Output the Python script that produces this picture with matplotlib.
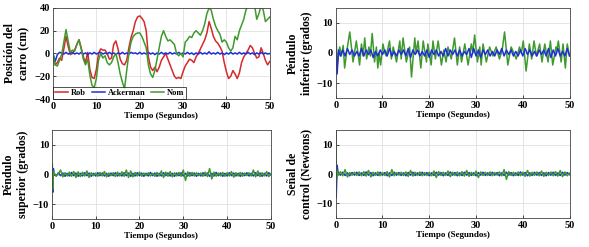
import numpy as np
import matplotlib
matplotlib.use('Agg')
import matplotlib.pyplot as plt

plt.rcParams['font.family'] = ['Liberation Serif', 'DejaVu Serif']
plt.rcParams['font.weight'] = 'bold'

# ---------------- data ----------------
t_car = np.arange(0, 50.01, 0.5)

car_rob = [-3, -10, -8, -4, -6, 4, 15, 6, -1, 0,
           3, 8, 12, 5, -3, -8, 1, -14, -21, -22,
           -14, 0, 4, 3, 3, 0, -5, -4, 8, 11,
           4, -5, -9, -10, -6, 5, 14, 20, 28, 32,
           33, 31, 28, 20, -3, -12, -15, -12, -16, -12,
           -6, -3, 0, -5, -10, -15, -20, -22, -21, -22,
           -16, -11, -8, -5, -6, -8, -3, 0, 4, 8,
           12, 18, 28, 22, 15, 11, 9, 6, 2, -8,
           -16, -22, -20, -15, -18, -22, -17, -8, -3, 0,
           3, 7, 5, 0, -4, -3, 5, 0, -6, -10,
           -7]

car_ack = [0, -7, -1, 1, 0.5, -0.5, 1, -0.5, 0.5, 1,
           -0.5, 0.5, -0.5, 1, -0.5, 0.5, -1, 0.5, -0.5, 1,
           -0.5, 0.5, 1, -0.5, 0.5, -0.5, 1, -0.5, 0.5, -1,
           0.5, -0.5, 1, -0.5, 0.5, -0.5, 1, 0, 0.5, -0.5,
           1, -0.5, 0.5, -0.5, 1, -0.5, 0.5, -1, 0.5, -0.5,
           1, -0.5, 0.5, -0.5, 1, -0.5, 0.5, -0.5, 1, -0.5,
           0.5, -0.5, 1, -0.5, 0.5, -1, 0.5, -0.5, 1, -0.5,
           0.5, -0.5, 1.5, -0.5, 0.5, -0.5, 1, -0.5, 0.5, -1,
           0.5, -0.5, 1, -0.5, 0.5, -0.5, 1, -0.5, 0.5, -0.5,
           1, -0.5, 0.5, -1, 0.5, -0.5, 1, -0.5, 0.5, -0.5,
           0]

car_nom = [0, -10, -11, -6, -1, 10, 21, 11, 1, 3,
           2, 8, 12, 4, -5, -10, -5, -19, -28, -30,
           -22, -6, 0, -4, -2, -8, -10, -8, -3, 0,
           -8, -18, -25, -31, -15, 0, 10, 15, 17, 18,
           18, 15, 10, 5, -10, -18, -21, -15, -5, 5,
           15, 20, 15, 11, 12, 10, 8, 0, -2, 0,
           -3, 10, 12, 15, 14, 18, 20, 18, 16, 20,
           26, 35, 40, 38, 30, 24, 20, 17, 10, 12,
           10, 5, 2, 5, 15, 12, 20, 25, 30, 38,
           42, 45, 45, 42, 30, 35, 42, 38, 28, 30,
           32]

# lower pendulum: nominal (green) peaks and troughs
inf_t = [0, 0.3, 0.85, 1.2, 1.6, 1.9, 2.4, 3.0, 3.7, 4.4,
         5.1, 5.5, 5.85, 6.2, 6.6, 7.1, 7.4, 7.8, 8.3, 8.7,
         9.0, 9.3, 9.6, 10.1, 10.5, 10.8, 11.5, 11.9, 12.3, 13.0,
         13.7, 14.0, 14.4, 15.1, 15.8, 16.2, 16.9, 17.2, 17.6, 18.2,
         18.7, 19.4, 19.7, 20.4, 20.8, 21.3, 21.9, 22.6, 23.1, 23.6,
         24.0, 24.7, 25.4, 26.0, 26.5, 26.9, 27.6, 28.3, 29.0, 29.3,
         29.7, 30.3, 30.8, 31.1, 31.5, 32.2, 32.9, 33.6, 34.3, 35.0,
         35.6, 36.1, 36.8, 37.5, 38.1, 38.6, 39.3, 39.7, 40.1, 40.7,
         41.4, 41.9, 42.4, 42.9, 43.6, 44.1, 44.7, 45.4, 45.9, 46.4,
         47.1, 47.3, 47.6, 48.2, 48.6, 49.1, 49.5, 50.0]
inf_nom = [8, -4, 2, -1, 2.5, -5, 1, 7, -3, 4,
           -4, 3, -1, 5, -2, 2, -1, 6.5, -3, 2,
           -5, 0, -4, 3, 0, -1, 4, -2, 2, -3,
           4, -2, 5, -3, 2, -8, 5, 0, 4, -5,
           4, -3, 3, -4, 4, -2, 4, -4, 1, -3,
           2, -2, 5, -4, 2, -3, 3, -4, 3, 0,
           6, -3, 2, -4, 3, -3, 2, -1, 2, -2,
           1, 7, -4, 2, 0, -2, 2, 0, 4, -6,
           3, -2, 4, -1, 3, -3, 3, -3, 4, -4,
           2, 1, 4, -3, 3, -5, 3, -1]

inf_ack_t = [0, 0.3, 0.6, 1.0] + list(np.arange(1.5, 50.01, 0.5))
inf_ack = [0, -7, 1, -1,
           1, -1, 1.5, -0.5, 1, -1, 0.5, -1, 1.5, -1,
           1, -0.5, 1, -1.5, 0.5, -1, 1, -0.5, 1, -1,
           1.5, -1, 0.5, -1, 1, -0.5, 1, -1, 1.5, -1.5,
           1, -0.5, 1, -1, 0.5, -1, 1, -1.5, 1, -0.5,
           1, -1, 0.5, -1, 1.5, -1, 1, -0.5, 1, -1,
           1, -1, 0.5, -0.5, 1.5, -1.5, 1.5, -1, 1, -1.5,
           1, -0.5, 1, -1, 0.5, -1, 1, -0.5, 1.5, -1,
           1, -0.5, 1, -1, 0.5, -1, 1, -1, 1.5, -0.5,
           1, -1, 0.5, -1, 1, -0.5, 1, -1, 1.5, -1.5,
           1, -1, 1.5, -1, 0.5, -1, 1.5, -1]

# upper pendulum
sup_t = [0, 0.1, 0.2, 0.35] + list(np.arange(0.5, 50.01, 0.5))
sup_nom = [0, 3, -5, 1,
           0.5, -0.5, 0.3, 1.5, -0.8, 0.6, -0.5, 0.8, -0.6, 1.0,
           -1.0, 0.9, -0.7, 0.8, -0.5, 1.2, -1.0, 0.6, -0.4, 0.5,
           -0.6, 0.7, -0.5, 1.0, -0.8, 0.5, -0.4, 0.6, -0.7, 0.8,
           -0.5, 0.9, -0.6, 1.5, -1.0, 1.2, -0.8, 0.7, -0.5, 0.8,
           -0.6, 0.5, -0.4, 0.6, -0.5, 0.4, -0.6, 0.7, -0.5, 1.2,
           -1.0, 0.8, -0.6, 1.0, -0.8, 0.6, -0.5, 0.7, -0.6, 1.5,
           -2.0, 0.9, -0.6, 0.7, -0.5, 0.6, -0.4, 0.5, -0.6, 0.8,
           -0.7, 2.0, -1.5, 0.8, -0.6, 0.5, -0.5, 0.7, -0.6, 0.6,
           -0.5, 1.0, -0.9, 0.6, -0.5, 0.7, -0.6, 0.5, -0.4, 0.6,
           -0.5, 1.5, -0.8, 1.2, -0.7, 0.6, -0.5, 1.0, -0.7, 0.3]
sup_ack = [0, 3.5, -6, 2,
           0.4, -0.5, 0.6, -0.4, 0.5, -0.6, 0.4, -0.5, 0.7, -0.4,
           0.5, -0.6, 0.4, -0.5, 0.6, -0.4, 0.5, -0.6, 0.4, -0.5,
           0.6, -0.4, 0.5, -0.5, 0.4, -0.6, 0.5, -0.4, 0.6, -0.5,
           0.4, -0.5, 0.6, -0.4, 0.5, -0.6, 0.4, -0.5, 0.6, -0.4,
           0.5, -0.6, 0.4, -0.5, 0.7, -0.4, 0.5, -0.6, 0.4, -0.5,
           0.6, -0.4, 0.5, -0.5, 0.4, -0.6, 0.5, -0.4, 0.6, -0.5,
           0.4, -0.5, 0.6, -0.4, 0.5, -0.6, 0.4, -0.5, 0.6, -0.4,
           0.5, -0.6, 0.4, -0.5, 0.7, -0.4, 0.5, -0.6, 0.4, -0.5,
           0.6, -0.4, 0.5, -0.5, 0.4, -0.6, 0.5, -0.4, 0.6, -0.5,
           0.4, -0.5, 0.6, -0.4, 0.5, -0.6, 0.4, -0.5, 0.6, -0.2]

# control signal
u_t = [0, 0.05, 0.15, 0.35] + list(np.arange(0.5, 50.01, 0.5))
u_nom = [0, 15, -2, 1,
         -0.5, 0.8, -0.6, 1.5, -1.0, 0.5, -0.4, 0.6, -0.5, 0.7,
         -0.6, 0.8, -0.7, 1.2, -1.0, 0.6, -0.5, 0.7, -0.6, 0.5,
         -0.5, 0.8, -1.0, 1.5, -0.6, 0.5, -0.4, 0.6, -0.5, 0.7,
         -0.8, 1.2, -0.7, 0.6, -0.5, 0.7, -0.6, 0.5, -0.5, 0.6,
         -0.6, 1.0, -1.2, 0.8, -0.5, 0.6, -0.5, 1.0, -0.9, 0.6,
         -0.5, 0.7, -0.6, 0.8, -0.7, 1.2, -0.8, 0.6, -0.5, 1.0,
         -1.2, 0.7, -0.5, 0.6, -0.5, 0.7, -0.6, 0.5, -0.4, 0.7,
         -0.6, 1.5, -1.8, 0.8, -0.5, 0.6, -0.5, 0.7, -0.6, 0.6,
         -0.8, 1.2, -0.7, 0.6, -0.5, 0.7, -0.6, 1.0, -0.8, 0.6,
         -0.5, 0.7, -0.6, 0.8, -0.7, 1.2, -0.9, 0.7, -0.6, 0.3]
u_ack_t = [0, 0.1, 0.3, 0.45] + list(np.arange(0.5, 50.01, 0.5))
u_ack = [0, -8, 3, 1,
         0.5, -0.4, 0.6, -0.5, 0.4, -0.6, 0.5, -0.4, 0.6, -0.5,
         0.4, -0.5, 0.7, -0.4, 0.5, -0.6, 0.4, -0.5, 0.6, -0.4,
         0.5, -0.6, 0.4, -0.5, 0.6, -0.4, 0.5, -0.5, 0.4, -0.6,
         0.5, -0.4, 0.6, -0.5, 0.4, -0.5, 0.6, -0.4, 0.5, -0.6,
         0.4, -0.5, 0.6, -0.4, 0.5, -0.6, 0.4, -0.5, 0.7, -0.4,
         0.5, -0.6, 0.4, -0.5, 0.6, -0.4, 0.5, -0.5, 0.4, -0.6,
         0.5, -0.4, 0.6, -0.5, 0.4, -0.5, 0.6, -0.4, 0.5, -0.6,
         0.4, -0.5, 0.6, -0.4, 0.5, -0.6, 0.4, -0.5, 0.7, -0.4,
         0.5, -0.6, 0.4, -0.5, 0.6, -0.4, 0.5, -0.5, 0.4, -0.6,
         0.5, -0.4, 0.6, -0.5, 0.4, -0.5, 0.6, -0.4, 0.5, -0.2]

RED = '#d42a2a'
BLUE = '#1f2fd6'
GREEN = '#3f9a2e'

fig = plt.figure(figsize=(5.89, 2.47), dpi=100)

ax1 = fig.add_axes([0.090, 0.599, 0.368, 0.369])
ax2 = fig.add_axes([0.570, 0.603, 0.397, 0.365])
ax3 = fig.add_axes([0.088, 0.113, 0.372, 0.361])
ax4 = fig.add_axes([0.570, 0.117, 0.397, 0.357])

lw = 1.1
ax1.plot(t_car, car_rob, color=RED, lw=lw, label='Rob')
ax1.plot(t_car, car_ack, color=BLUE, lw=lw, label='Ackerman')
ax1.plot(t_car, car_nom, color=GREEN, lw=lw, label='Nom')
ax1.set_ylim(-40, 40)
ax1.set_yticks([-40, -20, 0, 20, 40])
ax1.set_ylabel('Posición del\ncarro (cm)', fontsize=8.5, fontweight='bold', labelpad=3)
leg = ax1.legend(loc='lower left', ncol=3, fontsize=6, frameon=True,
                 fancybox=False, borderpad=0.2, handlelength=1.6,
                 columnspacing=0.7, handletextpad=0.3, borderaxespad=0.05)
leg.get_frame().set_edgecolor('black')
leg.get_frame().set_linewidth(0.6)

ax2.plot(inf_t, inf_nom, color=GREEN, lw=lw)
ax2.plot(inf_ack_t, inf_ack, color=BLUE, lw=lw)
ax2.set_ylim(-15, 15)
ax2.set_yticks([-10, 0, 10])
ax2.set_ylabel('Péndulo\ninferior (grados)', fontsize=8.5, fontweight='bold', labelpad=3)

ax3.plot(sup_t, sup_ack, color=BLUE, lw=lw)
ax3.plot(sup_t, sup_nom, color=GREEN, lw=lw)
ax3.set_ylim(-15, 15)
ax3.set_yticks([-10, 0, 10])
ax3.set_ylabel('Péndulo\nsuperior (grados)', fontsize=8.5, fontweight='bold', labelpad=3)

ax4.plot(u_ack_t, u_ack, color=BLUE, lw=lw)
ax4.plot(u_t, u_nom, color=GREEN, lw=lw)
ax4.set_ylim(-15, 15)
ax4.set_yticks([-10, 0, 10])
ax4.set_ylabel('Señal de\ncontrol (Newtons)', fontsize=8.5, fontweight='bold', labelpad=3)

for ax in (ax1, ax2, ax3, ax4):
    ax.set_xlim(0, 50)
    ax.set_xticks([0, 10, 20, 30, 40, 50])
    ax.set_xlabel('Tiempo (Segundos)', fontsize=6.5, fontweight='bold', labelpad=1)
    ax.grid(True, color='#e0e0e0', lw=0.6)
    ax.set_axisbelow(True)
    ax.tick_params(direction='in', length=2, width=0.5, labelsize=7.5, pad=2)
    for s in ax.spines.values():
        s.set_linewidth(0.6)
        s.set_color('#444444')
    for lbl in ax.get_xticklabels() + ax.get_yticklabels():
        lbl.set_fontweight('bold')

fig.savefig('out.png', dpi=100)
